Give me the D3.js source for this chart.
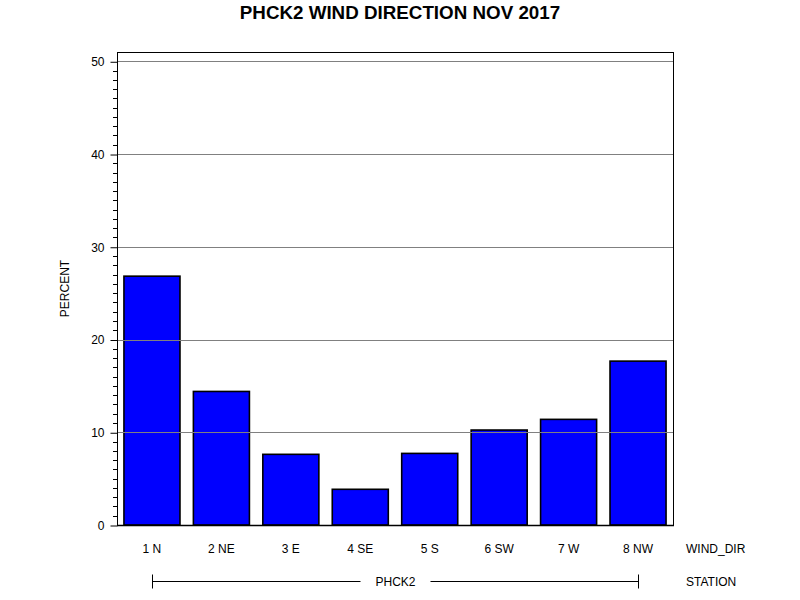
<!DOCTYPE html>
<html>
<head>
<meta charset="utf-8">
<script src="https://cdn.jsdelivr.net/npm/d3@7/dist/d3.min.js"></script>
<style>
  html, body { margin: 0; padding: 0; background: #fff; }
  text { font-family: "Liberation Sans", Arial, sans-serif; fill: #000; }
</style>
</head>
<body>
<svg id="chart" width="800" height="600"></svg>
<script>
const categories = ["1 N", "2 NE", "3 E", "4 SE", "5 S", "6 SW", "7 W", "8 NW"];
const percentValues = [26.83, 14.4, 7.62, 3.85, 7.72, 10.24, 11.39, 17.67];
const yTicks = [0, 10, 20, 30, 40, 50];
const stationLabel = "PHCK2";
const titleText = "PHCK2 WIND DIRECTION NOV 2017";

(function () {
const svg = d3.select("#chart");
const pLeft = 117, pRight = 673, pTop = 52, pBottom = 525;

const x = d3.scaleBand().domain(categories).range([pLeft, pRight]).paddingInner(0.193).paddingOuter(0.1);
const y = d3.scaleLinear().domain([0, 51]).range([pBottom, pTop]);

// title
svg.append("text").attr("x", 400).attr("y", 19).attr("text-anchor", "middle")
  .style("font-size", "18.8px").style("font-weight", "bold").text(titleText);

// bars
svg.append("g").selectAll("rect").data(percentValues).join("rect")
  .attr("x", (d, i) => x(categories[i]))
  .attr("y", d => y(d))
  .attr("width", x.bandwidth())
  .attr("height", d => y(0) - y(d))
  .attr("fill", "#0000FF")
  .attr("stroke", "#000")
  .attr("stroke-width", 1.6);

// gridlines (over bars)
svg.append("g").selectAll("line").data(yTicks.filter(t => t > 0)).join("line")
  .attr("x1", pLeft).attr("x2", pRight)
  .attr("y1", d => Math.round(y(d)) + 0.5).attr("y2", d => Math.round(y(d)) + 0.5)
  .attr("stroke", "#808080").attr("stroke-width", 1);

// frame
svg.append("rect").attr("x", pLeft + 0.5).attr("y", pTop + 0.5)
  .attr("width", pRight - pLeft).attr("height", pBottom - pTop)
  .attr("fill", "none").attr("stroke", "#000").attr("stroke-width", 1);
svg.append("line").attr("x1", pLeft).attr("x2", pRight + 1).attr("y1", pBottom + 0.5).attr("y2", pBottom + 0.5)
  .attr("stroke", "#000").attr("stroke-width", 1.5);

// y axis
const yAxis = d3.axisLeft(y).tickValues(yTicks).tickSize(7).tickPadding(6).tickFormat(d3.format("d"));
const gy = svg.append("g").attr("transform", `translate(${pLeft + 0.5},0.5)`).call(yAxis);
gy.select(".domain").remove();
gy.selectAll("text").style("font-size", "12px").style("font-family", "'Liberation Sans', Arial, sans-serif");
const minor = d3.range(0, 51, 1).filter(v => v % 10 !== 0);
svg.append("g").selectAll("line").data(minor).join("line")
  .attr("x1", pLeft - 4).attr("x2", pLeft)
  .attr("y1", d => Math.round(y(d)) + 0.5).attr("y2", d => Math.round(y(d)) + 0.5)
  .attr("stroke", "#000");

svg.append("text").attr("transform", `translate(69,${(pTop + pBottom) / 2}) rotate(-90)`)
  .attr("text-anchor", "middle").style("font-size", "12px").text("PERCENT");

// x labels
svg.append("g").selectAll("text").data(categories).join("text")
  .attr("x", d => x(d) + x.bandwidth() / 2).attr("y", 553)
  .attr("text-anchor", "middle").style("font-size", "12px").text(d => d);
svg.append("text").attr("x", 686).attr("y", 553).style("font-size", "12px").text("WIND_DIR");

// station row
const x1 = Math.round(x(categories[0]) + x.bandwidth() / 2) + 0.5;
const x2 = Math.round(x(categories[categories.length - 1]) + x.bandwidth() / 2) + 0.5;
const mid = (x1 + x2) / 2;
const rowY = 581.5;
const g2 = svg.append("g").attr("stroke", "#000").attr("stroke-width", 1);
g2.append("line").attr("x1", x1).attr("x2", mid - 35).attr("y1", rowY).attr("y2", rowY);
g2.append("line").attr("x1", mid + 35).attr("x2", x2).attr("y1", rowY).attr("y2", rowY);
g2.append("line").attr("x1", x1).attr("x2", x1).attr("y1", rowY - 7).attr("y2", rowY + 7);
g2.append("line").attr("x1", x2).attr("x2", x2).attr("y1", rowY - 7).attr("y2", rowY + 7);
svg.append("text").attr("x", mid).attr("y", 586).attr("text-anchor", "middle")
  .style("font-size", "12px").text(stationLabel);
svg.append("text").attr("x", 686).attr("y", 586).style("font-size", "12px").text("STATION");
})();
</script>
</body>
</html>
